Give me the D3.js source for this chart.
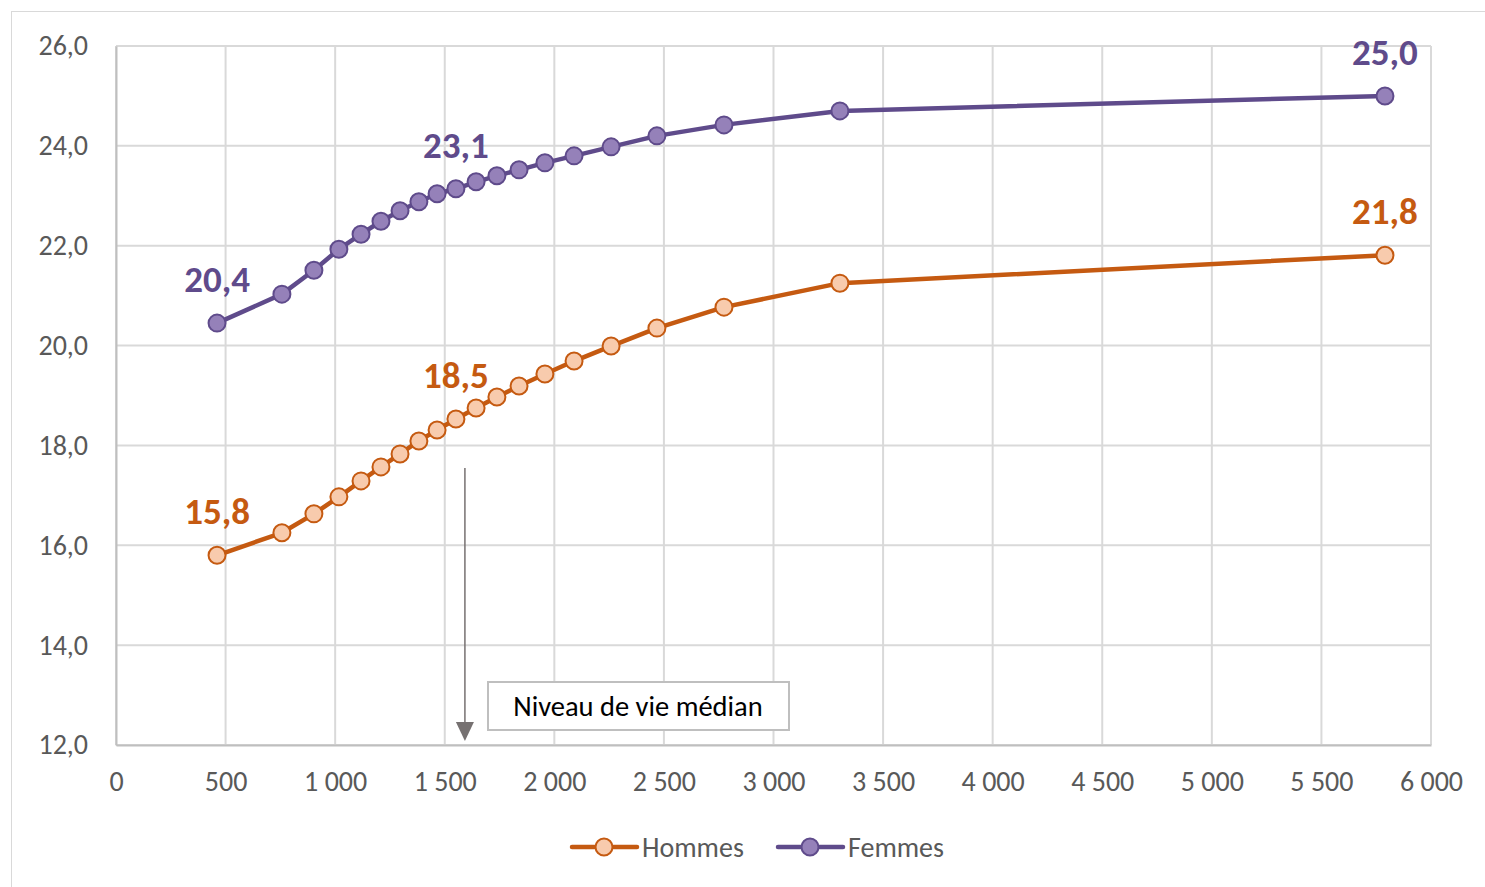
<!DOCTYPE html>
<html>
<head>
<meta charset="utf-8">
<script src="https://cdn.jsdelivr.net/npm/d3@7"></script>
<style>
  body { margin: 0; background: #fff; }
  svg { display: block; font-family: Carlito, Lato, "Open Sans", sans-serif; }
</style>
</head>
<body>
<div id="chart"></div>
<script>
// niveau de vie (euros/mois) et espérance de vie à 62 ans
const niveauDeVie = [461, 757, 903, 1017, 1118, 1209, 1296, 1382, 1465, 1551,
  1643, 1738, 1839, 1957, 2090, 2259, 2468, 2774, 3303, 5790];
const hommes = [15.8, 16.25, 16.63, 16.97, 17.29, 17.57, 17.83, 18.09, 18.31, 18.53,
  18.75, 18.97, 19.19, 19.43, 19.69, 19.99, 20.35, 20.77, 21.25, 21.81];
const femmes = [20.45, 21.03, 21.51, 21.93, 22.23, 22.49, 22.70, 22.88, 23.04, 23.14,
  23.28, 23.40, 23.52, 23.66, 23.80, 23.98, 24.20, 24.42, 24.70, 25.0];
const labelIndex = [0, 9, 19];
const xTicks = d3.range(0, 6001, 500);
const yTicks = d3.range(12, 26.1, 2);
const medianValue = 1592;
const series = [
  { name: "Hommes", values: hommes, line: "#c55a11", fill: "#f8cbad" },
  { name: "Femmes", values: femmes, line: "#5f4b8b", fill: "#9581b9" },
];

const width = 1485, height = 887;
const margin = { top: 46, right: 54, bottom: 142, left: 116 };

const fr = d3.formatLocale({ decimal: ",", thousands: "\u00a0", grouping: [3], currency: ["", " €"] });

const svg = d3.select("#chart").append("svg")
  .attr("width", width)
  .attr("height", height);

// cadre extérieur
svg.append("rect")
  .attr("x", 11.5).attr("y", 11.5)
  .attr("width", width).attr("height", height)
  .attr("fill", "none").attr("stroke", "#d9d9d9");

const x = d3.scaleLinear().domain([0, 6000]).range([margin.left, width - margin.right]);
const y = d3.scaleLinear().domain([12, 26]).range([height - margin.bottom, margin.top]);

// grille
svg.append("g")
  .selectAll("line.v")
  .data(xTicks)
  .join("line")
  .attr("x1", (d) => x(d)).attr("x2", (d) => x(d))
  .attr("y1", y(26)).attr("y2", y(12))
  .attr("stroke", "#d9d9d9").attr("stroke-width", 2);
svg.append("g")
  .selectAll("line.h")
  .data(yTicks)
  .join("line")
  .attr("x1", x(0)).attr("x2", x(6000))
  .attr("y1", (d) => y(d)).attr("y2", (d) => y(d))
  .attr("stroke", "#d9d9d9").attr("stroke-width", 2);

// axes
const xAxis = svg.append("g")
  .attr("transform", `translate(0,${y(12)})`)
  .call(d3.axisBottom(x).tickValues(xTicks).tickSize(0).tickPadding(26).tickFormat(fr.format(",")));
const yAxis = svg.append("g")
  .attr("transform", `translate(${x(0)},0)`)
  .call(d3.axisLeft(y).tickValues(yTicks).tickSize(0).tickPadding(28).tickFormat(fr.format(".1f")));
[xAxis, yAxis].forEach((a) => {
  a.select(".domain").attr("stroke", "#bfbfbf").attr("stroke-width", 2);
  a.selectAll("text")
    .attr("fill", "#595959")
    .style("font-size", "28px")
    .style("font-family", "Carlito, Lato, 'Open Sans', sans-serif");
});

// flèche niveau de vie médian
svg.append("line")
  .attr("x1", x(medianValue)).attr("x2", x(medianValue))
  .attr("y1", 468).attr("y2", 730)
  .attr("stroke", "#767171").attr("stroke-width", 1.5);
svg.append("path")
  .attr("d", `M${x(medianValue) - 9},${722}L${x(medianValue) + 9},${722}L${x(medianValue)},${741}Z`)
  .attr("fill", "#767171");

const box = svg.append("g").attr("transform", "translate(488,682)");
box.append("rect")
  .attr("width", 301).attr("height", 48)
  .attr("fill", "#fff").attr("stroke", "#bfbfbf").attr("stroke-width", 2);
box.append("text")
  .attr("x", 150).attr("y", 34)
  .attr("text-anchor", "middle")
  .style("font-size", "28.5px")
  .attr("fill", "#000")
  .text("Niveau de vie médian");

// courbes
const line = d3.line().x((d) => x(d[0])).y((d) => y(d[1]));
series.forEach((s) => {
  const pts = niveauDeVie.map((v, i) => [v, s.values[i]]);
  svg.append("path")
    .datum(pts)
    .attr("d", line)
    .attr("fill", "none")
    .attr("stroke", s.line)
    .attr("stroke-width", 4.5)
    .attr("stroke-linejoin", "round");
  svg.append("g")
    .selectAll("circle")
    .data(pts)
    .join("circle")
    .attr("cx", (d) => x(d[0]))
    .attr("cy", (d) => y(d[1]))
    .attr("r", 8.5)
    .attr("fill", s.fill)
    .attr("stroke", s.line)
    .attr("stroke-width", 2);
  svg.append("g")
    .selectAll("text")
    .data(labelIndex.map((i) => pts[i]))
    .join("text")
    .attr("x", (d) => x(d[0]))
    .attr("y", (d) => y(d[1]) - 31)
    .attr("text-anchor", "middle")
    .attr("fill", s.line)
    .style("font-size", "37px")
    .style("font-weight", "bold")
    .text((d) => fr.format(".1f")(d[1]));
});

// légende
const legend = svg.append("g").attr("transform", "translate(572,847)");
series.forEach((s, i) => {
  const g = legend.append("g").attr("transform", `translate(${i * 206},0)`);
  g.append("line").attr("x1", 0).attr("x2", 65)
    .attr("stroke", s.line).attr("stroke-width", 4.5).attr("stroke-linecap", "round");
  g.append("circle").attr("cx", 32).attr("r", 8.5)
    .attr("fill", s.fill).attr("stroke", s.line).attr("stroke-width", 2);
  g.append("text").attr("x", 70).attr("y", 10)
    .attr("fill", "#595959").style("font-size", "28px")
    .text(s.name);
});
</script>
</body>
</html>
